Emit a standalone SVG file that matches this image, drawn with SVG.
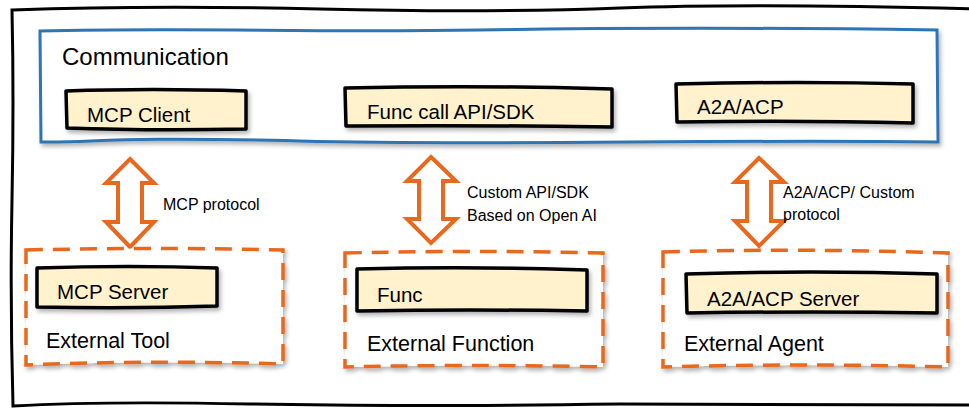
<svg xmlns="http://www.w3.org/2000/svg" width="969" height="409" viewBox="0 0 969 409">
<defs>
<filter id="sh" x="-5%" y="-10%" width="115%" height="130%">
<feDropShadow dx="2" dy="3" stdDeviation="2" flood-color="#000" flood-opacity="0.3"/>
</filter>
<style>
.frame{fill:#fff;stroke:#000;stroke-width:3}
.comm{fill:#fff;stroke:#2E74B5;stroke-width:3}
.box{fill:#FFF2CC;stroke:#000;stroke-width:3.5;stroke-linejoin:round}
.ext{fill:#fff;stroke:#E8681E;stroke-width:3.5;stroke-dasharray:17 10}
.arr{fill:#fff;stroke:#E8681E;stroke-width:4;stroke-linejoin:miter}
text{font-family:"Liberation Sans",Arial,sans-serif;fill:#000}
.t24{font-size:24px}
.t20{font-size:20.5px}
.t21{font-size:21.5px}
.t16{font-size:16px}
</style>
</defs>
<rect width="969" height="409" fill="#fff"/>
<path class="frame" d="M12,10 Q150,5 320,9 T620,8 T980,9 L980,405 L620,404 Q400,407 250,404 T13,406 Q10,300 12,200 T12,10 Z"/>
<g id="communication">
<path class="comm" filter="url(#sh)" d="M40,31 C200,27 300,33 480,30 S800,28 937,30 L938,142 C700,139 500,146 300,141 S100,143 41,142 Z"/>
<text class="t24" x="62" y="65">Communication</text>
</g>
<g id="mcp-client">
<path class="box" filter="url(#sh)" d="M66,91 Q150,88 246,91 L246,129 Q150,131 67,128 Z"/>
<text class="t20" x="87" y="122">MCP Client</text>
</g>
<g id="func-call">
<path class="box" filter="url(#sh)" d="M345,88 Q480,85 612,89 L612,127 Q480,125 346,126 Z"/>
<text class="t20" x="367" y="119">Func call API/SDK</text>
</g>
<g id="a2a-acp">
<path class="box" filter="url(#sh)" d="M676,84 Q800,81 913,84 L913,123 Q800,120 677,122 Z"/>
<text class="t20" x="697" y="114">A2A/ACP</text>
</g>
<g id="connectors">
<path class="arr" d="M130,159 L154,183 L142,183 L142,222 L154,222 L130,247 L106,222 L118,222 L118,183 L106,183 Z"/>
<path class="arr" d="M431,157 L456,181 L443,181 L443,219 L456,219 L431,243 L407,219 L419,219 L419,181 L407,181 Z"/>
<path class="arr" d="M759,158 L784,182 L771,182 L771,221 L784,221 L759,246 L735,221 L747,221 L747,182 L735,182 Z"/>
<text class="t16" x="163" y="210">MCP protocol</text>
<text class="t16" x="467" y="198">Custom API/SDK</text>
<text class="t16" x="467" y="221">Based on Open AI</text>
<text class="t16" x="783" y="198">A2A/ACP/ Custom</text>
<text class="t16" x="783" y="220">protocol</text>
</g>
<g id="external-tool">
<path class="ext" filter="url(#sh)" d="M26,250 Q150,247 283,250 L283,364 Q150,360 26,365 Z"/>
<path class="box" filter="url(#sh)" d="M37,268 Q130,265 217,268 L217,306 Q130,309 37,307 Z"/>
<text class="t20" x="57" y="299">MCP Server</text>
<text class="t21" x="46" y="348">External Tool</text>
</g>
<g id="external-function">
<path class="ext" filter="url(#sh)" d="M345,253 Q470,250 603,253 L603,367 Q470,364 345,367 Z"/>
<path class="box" filter="url(#sh)" d="M357,269 Q470,266 587,270 L587,311 Q470,309 357,311 Z"/>
<text class="t20" x="377" y="302">Func</text>
<text class="t21" x="367" y="351">External Function</text>
</g>
<g id="external-agent">
<path class="ext" filter="url(#sh)" d="M663,252 Q800,248 948,253 L948,367 Q800,363 663,367 Z"/>
<path class="box" filter="url(#sh)" d="M686,274 Q810,270 937,274 L937,313 Q810,311 687,313 Z"/>
<text class="t20" x="707" y="306">A2A/ACP Server</text>
<text class="t21" x="684" y="351">External Agent</text>
</g>
</svg>
